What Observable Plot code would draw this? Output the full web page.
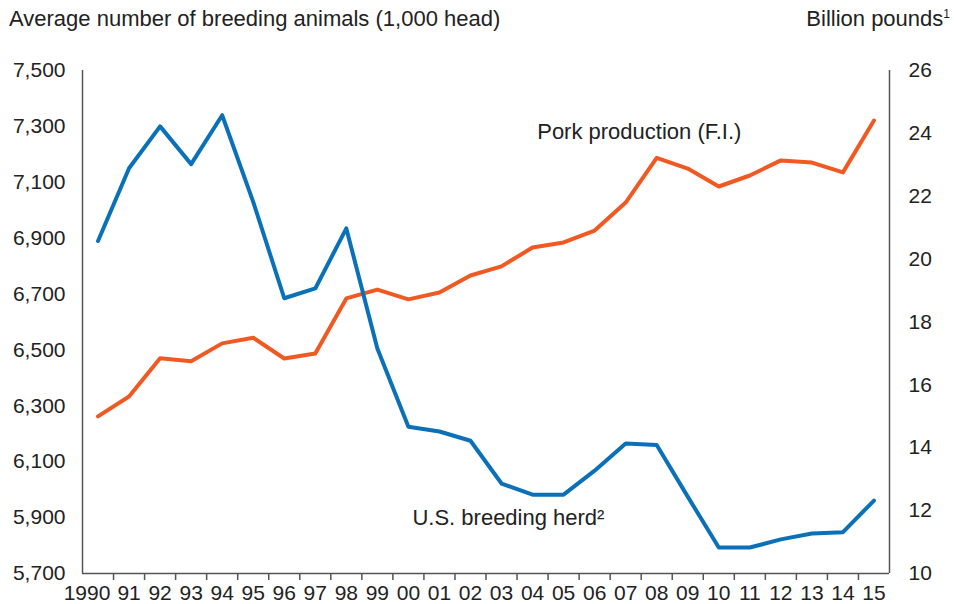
<!DOCTYPE html>
<html>
<head>
<meta charset="utf-8">
<script src="https://cdn.jsdelivr.net/npm/d3@7"></script>
<script src="https://cdn.jsdelivr.net/npm/@observablehq/plot@0.6"></script>
<style>
  html, body { margin: 0; padding: 0; background: #fff; }
  body { width: 954px; height: 604px; overflow: hidden; font-family: "Liberation Sans", Arial, sans-serif; color: #222; }
  .head { position: relative; height: 40px; font-size: 22px; }
  .head .l { position: absolute; left: 9px; top: 6px; }
  .head .r { position: absolute; right: 4px; top: 6px; }
  .head sup { font-size: 12px; }
</style>
</head>
<body>
<div class="head">
  <span class="l">Average number of breeding animals (1,000 head)</span>
  <span class="r">Billion pounds<sup>1</sup></span>
</div>
<div id="chart"></div>
<script>
// ---- data ----
const years = [1990,1991,1992,1993,1994,1995,1996,1997,1998,1999,2000,2001,2002,2003,2004,2005,2006,2007,2008,2009,2010,2011,2012,2013,2014,2015];
const breedingHerd = [6890,7150,7300,7165,7340,7030,6685,6720,6935,6505,6225,6208,6175,6022,5982,5982,6068,6165,6160,5975,5793,5793,5822,5843,5848,5961];
const porkProduction = [15.0,15.63,16.85,16.75,17.32,17.5,16.84,17.0,18.75,19.03,18.72,18.94,19.48,19.77,20.37,20.53,20.91,21.8,23.22,22.88,22.31,22.66,23.14,23.07,22.76,24.41];
const leftTicks = [5700,5900,6100,6300,6500,6700,6900,7100,7300,7500];
const rightTicks = [10,12,14,16,18,20,22,24,26];
const labels = [
  {text: "Pork production (F.I.)", year: 2004.15, value: 24.06, axis: "right"},
  {text: "U.S. breeding herd\u00B2", year: 2000.13, value: 5900, axis: "left"}
];

// map right-axis values onto left-axis domain
const L0 = 5700, L1 = 7500, R0 = 10, R1 = 26;
const toLeft = v => L0 + (v - R0) * (L1 - L0) / (R1 - R0);
const toRight = v => R0 + (v - L0) * (R1 - R0) / (L1 - L0);

const herd = years.map((y, i) => ({year: y, value: breedingHerd[i]}));
const pork = years.map((y, i) => ({year: y, value: toLeft(porkProduction[i])}));
const labelData = labels.map(d => ({...d, y: d.axis === "right" ? toLeft(d.value) : d.value}));
const bounds = years.slice(0, -1).map(y => y + 0.5);
const xMin = years[0] - 0.5, xMax = years[years.length - 1] + 0.5;
const yearLabel = d => d === years[0] ? String(d) : String(d % 100).padStart(2, "0");

const fmt = d3.format(",");
const plot = Plot.plot({
  width: 954,
  height: 564,
  marginTop: 30,
  marginBottom: 31,
  marginLeft: 82,
  marginRight: 65,
  style: {fontFamily: "'Liberation Sans', Arial, sans-serif", fontSize: "21px", color: "#222", background: "#fff"},
  x: {domain: [xMin, xMax]},
  y: {domain: [L0, L1]},
  marks: [
    Plot.axisY({ticks: leftTicks, tickFormat: fmt, tickSize: 0, tickPadding: 17, label: null}),
    Plot.axisY({anchor: "right", ticks: rightTicks.map(toLeft), tickFormat: d => String(Math.round(toRight(d))), tickSize: 0, tickPadding: 19, textAnchor: "start", label: null}),
    Plot.axisX({ticks: bounds, tickSize: 7, tickFormat: () => "", stroke: "#555", strokeWidth: 1.5, label: null}),
    Plot.axisX({ticks: years.slice(1), tickSize: 0, tickPadding: 12, tickFormat: yearLabel, label: null}),
    Plot.axisX({ticks: years.slice(0, 1), tickSize: 0, tickPadding: 12, tickFormat: yearLabel, dx: -11, label: null}),
    Plot.ruleX([xMin, xMax], {stroke: "#555", strokeWidth: 1.5}),
    Plot.ruleY([L0], {stroke: "#555", strokeWidth: 1.5}),
    Plot.line(pork, {x: "year", y: "value", stroke: "#f05a22", strokeWidth: 4}),
    Plot.line(herd, {x: "year", y: "value", stroke: "#0a71b9", strokeWidth: 4}),
    Plot.text(labelData, {x: "year", y: "y", text: "text", textAnchor: "start", fontSize: 22, fill: "#222"})
  ]
});
document.getElementById("chart").appendChild(plot);
</script>
</body>
</html>
